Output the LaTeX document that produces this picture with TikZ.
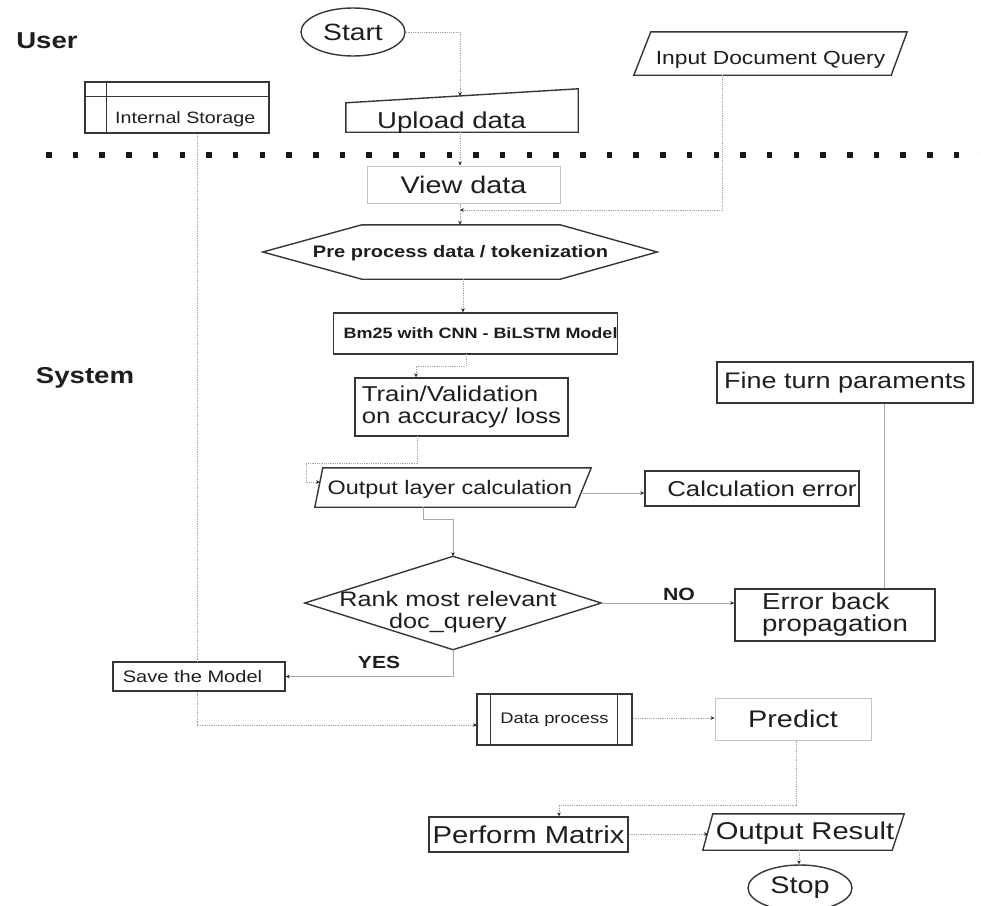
\documentclass[tikz,border=0pt]{standalone}
\usepackage{fontspec}
\setmainfont{Liberation Sans}[FakeStretch=1.2]
\usetikzlibrary{arrows.meta,calc,shapes.geometric}
\definecolor{bord}{HTML}{363636}
\definecolor{lightbord}{HTML}{C4C4C4}
\definecolor{lnk}{HTML}{A8A8A8}
\definecolor{txt}{HTML}{1E1E1E}
\newcommand\fz[2]{\fontsize{#1}{#2}\selectfont}
\begin{document}
\begin{tikzpicture}[x=1pt,y=-1pt,
  box/.style={draw=bord,line width=1.4pt,inner sep=0pt,text=txt},
  lbox/.style={draw=lightbord,line width=1pt,inner sep=0pt,text=txt},
  shp/.style={draw=bord,line width=1.4pt,line join=miter},
  ghost/.style={inner sep=0pt,text=txt},
  conn/.style={draw=lnk,line width=1pt,dash pattern=on 1pt off 0.8pt},
  sconn/.style={draw=lnk,line width=1pt},
  arr/.style={-{Stealth[length=4pt,width=3.6pt,color=black!85]}},
  sepline/.style={draw=black!90,line width=5.5pt,dash pattern=on 5.5pt off 21.2pt}]
\useasboundingbox (0,0) rectangle (981,905);
\fill[white] (0,0) rectangle (981,905);

% lane labels
\node[ghost,anchor=base,font=\bfseries\fz{23}{25}] (user) at (47,48) {User};
\node[ghost,anchor=base,font=\bfseries\fz{23}{25}] (system) at (85,383) {System};
\draw[sepline] (46,155) -- (981,155);

% helper coordinates
\coordinate (c197) at (197,0);
\coordinate (c460) at (460,0);
\coordinate (c416) at (416,0);
\coordinate (c884) at (884,0);
\coordinate (c796) at (796,0);
\coordinate (c559) at (559,0);
\coordinate (y718) at (0,718);
\coordinate (y834) at (0,834);

% Start
\node[box,ellipse,minimum width=104,minimum height=48,font=\fz{23.5}{25}] (start) at (353,32) {Start};

% Upload data (manual input)
\node[ghost,minimum width=232,minimum height=43] (up) at (462,110.5) {};
\draw[shp] (up.south west) -- ($(up.north west)+(0,14)$) -- (up.north east) -- (up.south east) -- cycle;
\node[ghost,anchor=base west,font=\fz{23}{25}] (upt) at (377,128) {Upload data};
\coordinate (upT) at (460,96);

% Internal storage
\node[box,minimum width=184,minimum height=51] (ist) at (177,107.5) {};
\draw[shp] ($(ist.north west)+(0,15)$) -- ($(ist.north east)+(0,15)$);
\draw[shp] ($(ist.north west)+(22,0)$) -- ($(ist.south west)+(22,0)$);
\node[ghost,anchor=base west,font=\fz{16.4}{18}] (istt) at (115,123) {Internal Storage};

% Input document query
\node[ghost,minimum width=273,minimum height=43] (idq) at (770.5,53.5) {};
\draw[shp] ($(idq.north west)+(17,0)$) -- (idq.north east) -- ($(idq.south east)+(-16,0)$) -- (idq.south west) -- cycle;
\node[ghost,anchor=base,font=\fz{19}{21}] (idqt) at (770.5,64) {Input Document Query};
\coordinate (idqB) at (722,75);

% View data
\node[lbox,minimum width=193,minimum height=37,font=\fz{24}{26}] (view) at (463.5,184.5) {View data};
\coordinate (j1) at (460,210);

% Pre process (hexagon)
\node[ghost,minimum width=394,minimum height=54] (pre) at (460,252) {};
\draw[shp] (pre.west) -- ($(pre.north west)+(99,0)$) -- ($(pre.north east)+(-97,0)$) -- (pre.east) -- ($(pre.south east)+(-97,0)$) -- ($(pre.south west)+(99,0)$) -- cycle;
\node[ghost,anchor=base,font=\bfseries\fz{16.7}{18}] (pret) at (460.5,257) {Pre process data / tokenization};
\coordinate (preB) at (463,279);

% Bm25
\node[box,minimum width=283,minimum height=41,font=\bfseries\fz{15}{17}] (bm) at (475.5,333.5) {\hspace*{10pt}Bm25 with CNN - BiLSTM Model};
\coordinate (bmB) at (466,354);

% Train
\node[box,minimum width=213,minimum height=58,align=left,font=\fz{21.5}{22}] (train) at (461.5,407) {Train/Validation\\on accuracy/ loss};
\coordinate (trB) at (417,436);

% Output layer calculation
\node[ghost,minimum width=276,minimum height=39] (opl) at (453,487.5) {};
\draw[shp] (opl.south west) -- ($(opl.north west)+(8,0)$) -- (opl.north east) -- ($(opl.south east)+(-16,0)$) -- cycle;
\node[ghost,anchor=base,font=\fz{19.5}{21}] (oplt) at (450,494) {Output layer calculation};
\coordinate (oplIn) at (320,482);
\coordinate (oplR) at (581,493);
\coordinate (oplB) at (423,507);

% Calculation error
\node[box,minimum width=214,minimum height=35,font=\fz{21.5}{23}] (calc) at (752,488.5) {\hspace*{20pt}Calculation error};

% Fine turn
\node[box,minimum width=256,minimum height=41,font=\fz{22.5}{24}] (fine) at (845,382.5) {Fine turn paraments};

% Rank (diamond)
\node[ghost,minimum width=296,minimum height=93] (rank) at (453,603) {};
\draw[shp] (rank.west) -- (rank.north) -- (rank.east) -- (rank.south) -- cycle;
\node[ghost,align=center,font=\fz{21}{21.5}] (rankt) at (448,612) {Rank most relevant\\doc\_query};

% Error back propagation
\node[box,minimum width=200,minimum height=52,align=left,font=\fz{23}{22}] (errb) at (835,615) {Error back\\propagation};

% labels
\node[ghost,font=\bfseries\fz{17.7}{19}] (no) at (679,594) {NO};
\node[ghost,font=\bfseries\fz{17.5}{19}] (yes) at (379,662) {YES};

% Save the model
\node[box,minimum width=172,minimum height=29,font=\fz{16.7}{18}] (save) at (199,676.5) {Save the Model\hspace*{13pt}};

% Data process
\node[box,minimum width=155,minimum height=51,font=\fz{15.3}{17}] (dp) at (554.5,719.5) {Data process};
\draw[shp] ($(dp.north west)+(14,0)$) -- ($(dp.south west)+(14,0)$);
\draw[shp] ($(dp.north east)+(-15,0)$) -- ($(dp.south east)+(-15,0)$);
\coordinate (dpIn) at (477,725);

% Predict
\node[lbox,minimum width=156,minimum height=42,font=\fz{24}{26}] (pred) at (793,719) {Predict};

% Perform matrix
\node[box,minimum width=199,minimum height=35,font=\fz{24.4}{26}] (perf) at (528.5,834.5) {Perform Matrix};

% Output result
\node[ghost,minimum width=201,minimum height=36] (outr) at (803.5,832) {};
\draw[shp] ($(outr.north west)+(10,0)$) -- (outr.north east) -- ($(outr.south east)+(-12,0)$) -- (outr.south west) -- cycle;
\node[ghost,anchor=base,font=\fz{24.3}{26}] (outrt) at (805,839) {Output Result};
\coordinate (orIn) at (708,834);
\coordinate (orB) at (799,850);

% Stop
\node[box,ellipse,minimum width=104,minimum height=46,font=\fz{24}{26}] (stop) at (800,888) {Stop};

% connectors
\draw[conn,arr] (start.east) -| (upT);
\draw[conn,arr] (up.south -| c460) -- (view.north -| c460);
\draw[conn,arr] (view.south -| c460) -- (pre.north -| c460);
\draw[conn,arr] (idqB) |- (j1);
\draw[conn,arr] (preB) -- (preB |- bm.north);
\draw[conn,arr] (bmB) -- ++(0,12) -| (train.north -| c416);
\draw[conn,arr] (trB) -- ++(0,27) -- ++(-111,0) -- ++(0,19) -- (oplIn);
\draw[sconn,arr] (oplR) -- (calc.west |- oplR);
\draw[sconn,arr] (oplB) -- ++(0,12) -| (rank.north);
\draw[sconn,arr] (rank.east) -- (rank.east -| errb.west);
\draw[sconn] (fine.south -| c884) -- (errb.north -| c884);
\draw[sconn,arr] (rank.south) |- (save.east);
\draw[conn] (ist.south -| c197) -- (save.north -| c197);
\draw[conn,arr] (save.south -| c197) |- (dpIn);
\draw[conn,arr] (dp.east |- y718) -- (pred.west |- y718);
\draw[conn,arr] (pred.south -| c796) -- ++(0,65) -| (perf.north -| c559);
\draw[conn,arr] (perf.east |- y834) -- (orIn);
\draw[conn,arr] (orB) -- (stop.north -| orB);
\end{tikzpicture}
\end{document}
